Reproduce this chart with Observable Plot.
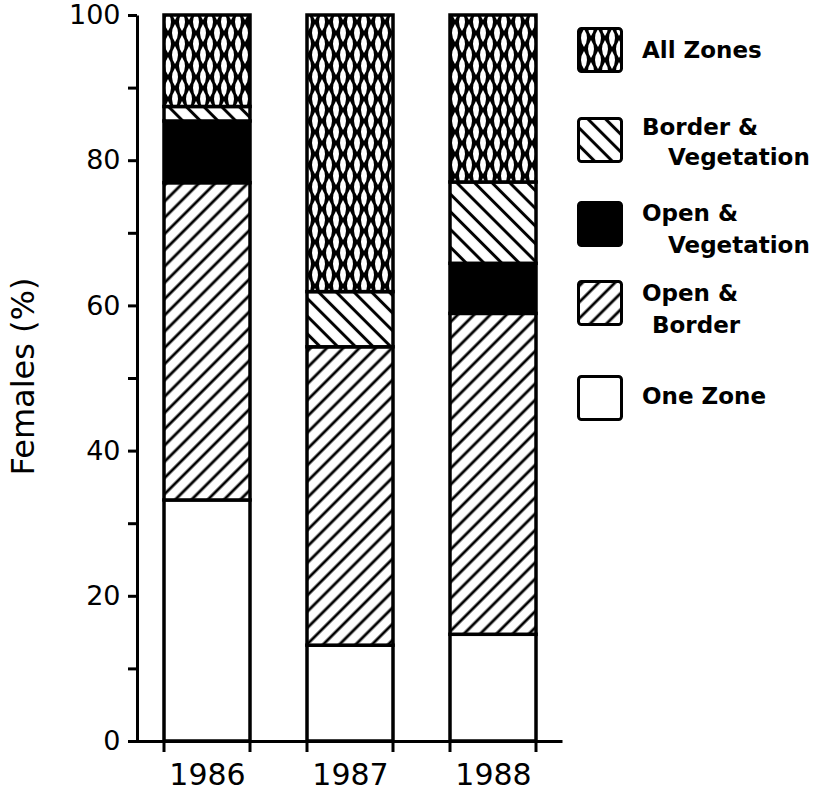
<!DOCTYPE html>
<html>
<head>
<meta charset="utf-8">
<script src="https://cdn.jsdelivr.net/npm/d3@7"></script>
<script src="https://cdn.jsdelivr.net/npm/@observablehq/plot@0.6"></script>
<style>
  html, body { margin: 0; padding: 0; background: white; }
  #wrap { position: relative; width: 814px; height: 791px; font-family: "DejaVu Sans", sans-serif; }
  #legend { position: absolute; left: 0; top: 0; width: 814px; height: 791px; pointer-events: none; }
  .sw { position: absolute; left: 577px; width: 46px; height: 46px; }
  .lt { position: absolute; font: bold 23px "DejaVu Sans", sans-serif; line-height: 23px; white-space: nowrap; color: black; }
  #chart g[aria-label="y-axis tick"] path { stroke-width: 3px; }
</style>
</head>
<body>
<svg width="0" height="0" style="position:absolute">
  <defs>
    <pattern id="pAll" patternUnits="userSpaceOnUse" width="14" height="22">
      <rect width="14" height="22" fill="black"/>
      <path d="M7,2 Q13,11 7,20 Q1,11 7,2Z" fill="white"/>
      <path d="M0,-9 Q6,0 0,9 Q-6,0 0,-9Z M14,-9 Q20,0 14,9 Q8,0 14,-9Z M0,13 Q6,22 0,31 Q-6,22 0,13Z M14,13 Q20,22 14,31 Q8,22 14,13Z" fill="white"/>
    </pattern>
    <pattern id="pOB" patternUnits="userSpaceOnUse" width="11.5" height="11.5" patternTransform="rotate(45)">
      <rect width="11.5" height="11.5" fill="white"/>
      <line x1="5.75" y1="-1" x2="5.75" y2="12.5" stroke="black" stroke-width="2.8"/>
    </pattern>
    <pattern id="pBV" patternUnits="userSpaceOnUse" width="12.5" height="12.5" patternTransform="rotate(-45)">
      <rect width="12.5" height="12.5" fill="white"/>
      <line x1="6.25" y1="-1" x2="6.25" y2="13.5" stroke="black" stroke-width="3"/>
    </pattern>
  </defs>
</svg>
<div id="wrap">
  <div id="chart"></div>
  <div id="legend"></div>
</div>
<script>
// ---- data ----
const years = ["1986", "1987", "1988"];
const categories = ["One Zone", "Open & Border", "Open & Vegetation", "Border & Vegetation", "All Zones"];
const oneZone = [33.2, 13.2, 14.7];
const openBorder = [43.7, 41.1, 44.2];
const openVegetation = [8.5, 0, 6.9];
const borderVegetation = [2.0, 7.6, 11.2];
const allZones = [12.6, 38.1, 23.0];
const yTicks = [0, 20, 40, 60, 80, 100];
const yMinorTicks = [10, 30, 50, 70, 90];
const yLabel = "Females (%)";

const fills = {
  "One Zone": "white",
  "Open & Border": "url(#pOB)",
  "Open & Vegetation": "black",
  "Border & Vegetation": "url(#pBV)",
  "All Zones": "url(#pAll)"
};
const series = [oneZone, openBorder, openVegetation, borderVegetation, allZones];
const table = categories.flatMap((c, i) => years.map((y, j) => ({year: y, cat: c, value: series[i][j]})));

const W = 814, H = 791, mL = 137, mR = 252, mT = 15, mB = 50;
const frameW = W - mL - mR, frameH = H - mT - mB;
const xOpts = {type: "band", domain: years, paddingInner: 0.4, paddingOuter: 0.18};
const common = {width: W, height: H, marginLeft: mL, marginRight: mR, marginTop: mT, marginBottom: mB,
  style: {fontFamily: "DejaVu Sans, sans-serif", fontSize: "27px", color: "black", background: "white"}};

const probe = Plot.plot({...common, x: xOpts, y: {domain: [0, 100]},
  marks: [Plot.barY(years, {x: d => d, y: () => 1})]});
const bw = probe.scale("x").bandwidth;
const tickLen = 11, tickW = 1.5;

const chart = Plot.plot({
  ...common,
  x: xOpts,
  y: {domain: [0, 100]},
  color: {type: "identity"},
  marks: [
    Plot.frame({stroke: "black", strokeWidth: 3, strokeDasharray: `0 ${frameW + frameH} ${frameW + frameH}`}),
    Plot.rectY(table, Plot.stackY({x: "year", y: "value", z: "cat", order: categories,
      fill: d => fills[d.cat], stroke: "black", strokeWidth: 3.5})),
    // tick marks at the bar edges, below the baseline
    Plot.barY(years, {x: d => d, y1: () => 0, y2: () => 0, insetBottom: -tickLen,
      insetLeft: -tickW, insetRight: bw - tickW, fill: "black"}),
    Plot.barY(years, {x: d => d, y1: () => 0, y2: () => 0, insetBottom: -tickLen,
      insetLeft: bw - tickW, insetRight: -tickW, fill: "black"}),
    Plot.axisY({ticks: yTicks, tickSize: 9, tickPadding: 8, fontSize: 27, label: null}),
    Plot.axisY({ticks: yMinorTicks, tickSize: 9, tickFormat: () => "", label: null}),
    Plot.axisX({tickSize: 0, tickPadding: 22, fontSize: 30, label: null}),
    Plot.text([yLabel], {frameAnchor: "left", textAnchor: "middle", rotate: -90, dx: -114, dy: -2, fontSize: 32})
  ]
});
document.getElementById("chart").appendChild(chart);

// ---- legend ----
const legendItems = [
  {cat: "All Zones", box: 27, lines: [{t: "All Zones", c: 50, x: 642}]},
  {cat: "Border & Vegetation", box: 117, lines: [{t: "Border &", c: 127, x: 642}, {t: "Vegetation", c: 157, x: 668}]},
  {cat: "Open & Vegetation", box: 201, lines: [{t: "Open &", c: 213, x: 642}, {t: "Vegetation", c: 245, x: 668}]},
  {cat: "Open & Border", box: 280, lines: [{t: "Open &", c: 293, x: 642}, {t: "Border", c: 325, x: 652}]},
  {cat: "One Zone", box: 375, lines: [{t: "One Zone", c: 396, x: 642}]}
];
const legend = document.getElementById("legend");
for (const it of legendItems) {
  const ns = "http://www.w3.org/2000/svg";
  const s = document.createElementNS(ns, "svg");
  s.setAttribute("class", "sw");
  s.setAttribute("width", 46); s.setAttribute("height", 46);
  s.style.top = it.box + "px";
  const r = document.createElementNS(ns, "rect");
  r.setAttribute("x", 1.5); r.setAttribute("y", 1.5);
  r.setAttribute("width", 43); r.setAttribute("height", 43);
  r.setAttribute("rx", 3);
  r.setAttribute("fill", fills[it.cat]);
  r.setAttribute("stroke", "black"); r.setAttribute("stroke-width", 3);
  s.appendChild(r);
  legend.appendChild(s);
  for (const l of it.lines) {
    const d = document.createElement("div");
    d.className = "lt";
    d.textContent = l.t;
    d.style.left = l.x + "px";
    d.style.top = (l.c - 11) + "px";
    legend.appendChild(d);
  }
}
</script>
</body>
</html>
